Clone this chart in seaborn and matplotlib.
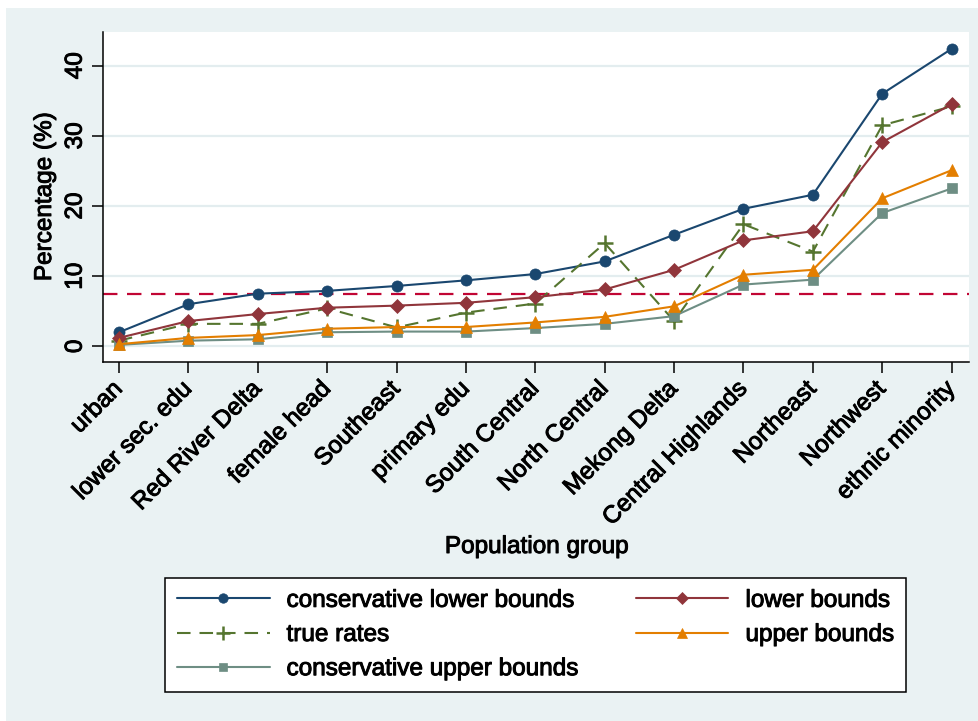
import matplotlib
matplotlib.use("Agg")
import matplotlib.pyplot as plt
import matplotlib.patheffects as pe
from matplotlib.patches import Rectangle
import seaborn as sns
import numpy as np

categories = ["urban", "lower sec. edu", "Red River Delta", "female head", "Southeast",
              "primary edu", "South Central", "North Central", "Mekong Delta",
              "Central Highlands", "Northeast", "Northwest", "ethnic minority"]

cons_lower = [2.0, 6.0, 7.5, 7.9, 8.6, 9.4, 10.3, 12.1, 15.9, 19.6, 21.6, 36.0, 42.4]
lower = [1.2, 3.6, 4.6, 5.5, 5.8, 6.2, 7.0, 8.1, 10.9, 15.1, 16.4, 29.1, 34.5]
true_rates = [0.8, 3.2, 3.2, 5.4, 2.7, 4.8, 6.1, 14.7, 3.6, 17.4, 13.5, 31.5, 34.2]
upper = [0.3, 1.2, 1.6, 2.5, 2.75, 2.75, 3.4, 4.2, 5.7, 10.2, 10.9, 21.1, 25.1]
cons_upper = [0.2, 0.8, 1.0, 2.0, 2.1, 2.1, 2.6, 3.2, 4.3, 8.8, 9.5, 19.0, 22.5]
reference_level = 7.5

yticks = [0, 10, 20, 30, 40]

sns.set_theme(style="white")
plt.rcParams["font.family"] = ["Liberation Sans", "DejaVu Sans"]
plt.rcParams["text.color"] = "black"
plt.rcParams["xtick.color"] = "black"
plt.rcParams["ytick.color"] = "black"

BG = "#eaf2f3"
FS = 17.5
# slightly heavier strokes for all text
heavy = [pe.withStroke(linewidth=0.7, foreground="black")]

fig = plt.figure(figsize=(9.79, 7.21), dpi=100, facecolor="white")
fig.patches.append(Rectangle((6 / 979, 0), 1, 1 - 8 / 721, transform=fig.transFigure,
                             facecolor=BG, edgecolor="none", zorder=-10))

ax = fig.add_axes([103.3 / 979, 1 - 362.3 / 721, (969 - 103.3) / 979, (362.3 - 32) / 721])
ax.set_facecolor("white")

x = np.arange(len(categories))

for yv in yticks:
    ax.axhline(yv, color="#e3edef", lw=1.6, zorder=0)

ax.axhline(reference_level, color="#c10534", lw=1.6, dashes=(6.5, 4.3), zorder=1)

series = [
    ("conservative lower bounds", cons_lower, "#1a476f", "o", 8.0),
    ("true rates", true_rates, "#55752f", "+", 12),
    ("conservative upper bounds", cons_upper, "#6e8e84", "s", 7.6),
    ("lower bounds", lower, "#90353b", "D", 7.4),
    ("upper bounds", upper, "#e37e00", "^", 9.0),
]

handles = []
for name, vals, col, mk, ms in series:
    if mk == "+":
        sns.lineplot(x=x, y=vals, ax=ax, color=col, lw=1.5,
                     linestyle=(0, (6.5, 4.3)), marker="+", markersize=ms,
                     markeredgewidth=1.8, markeredgecolor=col, sort=False, zorder=3)
    else:
        sns.lineplot(x=x, y=vals, ax=ax, color=col, lw=1.5, marker=mk, markersize=ms,
                     markeredgecolor=col, markerfacecolor=col, markeredgewidth=0.5,
                     sort=False, zorder=3)
    handles.append(ax.lines[-1])

ax.set_xlim(-0.226, 12.25)
ax.set_ylim(-2.28, 44.8)
ax.set_yticks(yticks)
ax.set_yticklabels([str(v) for v in yticks], rotation=90, va="center", fontsize=FS)
ax.set_xticks(x)
ax.set_xticklabels(categories, rotation=45, ha="right", va="center",
                   rotation_mode="anchor", fontsize=FS)
ax.tick_params(axis="both", direction="out", length=8, width=1.1, color="black",
               bottom=True, left=True)
ax.tick_params(axis="y", pad=4)
ax.tick_params(axis="x", pad=9)
for t in ax.get_xticklabels() + ax.get_yticklabels():
    t.set_path_effects(heavy)

for side in ["top", "right"]:
    ax.spines[side].set_visible(False)
for side in ["left", "bottom"]:
    ax.spines[side].set_color("black")
    ax.spines[side].set_linewidth(1.1)

ax.set_xlabel("")
ax.set_ylabel("")
fig.text(45 / 979, 1 - 197 / 721, "Percentage (%)", rotation=90, ha="center", va="center",
         fontsize=FS, path_effects=heavy)
fig.text(536.5 / 979, 1 - 547 / 721, "Population group", ha="center", va="center",
         fontsize=FS, path_effects=heavy)

leg = fig.legend(handles, [s[0] for s in series], ncol=2,
                 loc="center", bbox_to_anchor=(165 / 979, 1 - 693 / 721, 741 / 979, 116 / 721),
                 mode="expand", fontsize=FS, frameon=True, fancybox=False,
                 edgecolor="black", facecolor="white", framealpha=1,
                 handlelength=3.8, handletextpad=0.7, labelspacing=0.5,
                 borderpad=0.5, columnspacing=2.0, borderaxespad=0, markerscale=0.85)
leg.get_frame().set_linewidth(1.1)
for t in leg.get_texts():
    t.set_path_effects(heavy)

fig.savefig("out.png", dpi=100, facecolor=fig.get_facecolor())
